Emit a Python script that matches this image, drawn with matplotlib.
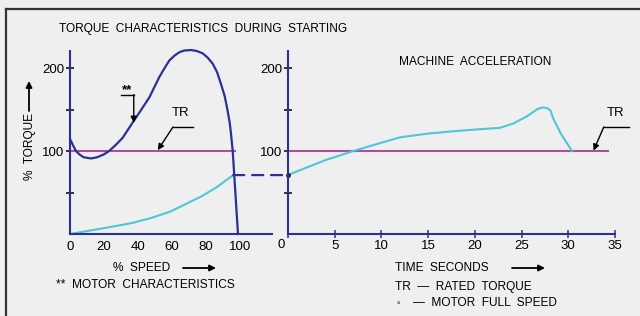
import matplotlib.pyplot as plt
from matplotlib.lines import Line2D
from matplotlib.patches import ConnectionPatch, FancyArrowPatch

plt.rcParams['font.family'] = ['Liberation Sans', 'DejaVu Sans']

# left panel: torque vs % speed
motor_speed = [0, 2, 3.5, 5.5, 8, 12.4, 16, 20, 23, 27, 31, 36.9, 41.5, 46.7, 49.5, 52.5, 55.5, 58.4,
               61.5, 64.3, 67, 71.2, 74.5, 78, 81, 84, 86.5, 88.8, 91, 92.7, 94, 94.7, 95.7, 98.8]
motor_torque = [114.5, 106, 100, 96, 92.5, 91, 92.5, 96, 100, 107.5, 116, 134.5, 148.5, 164.7, 176.5, 189, 199.5, 209,
                215, 219, 221, 221.7, 220.5, 217.7, 212.5, 205, 195, 180.7, 166, 148.6, 133, 120.5, 100, 0]
load_speed = [0, 8, 18, 28, 37, 48, 59, 68, 77, 86, 96]
load_torque = [0, 2.8, 6.4, 10, 13.5, 19.5, 27, 36, 45, 56, 71]
rated_torque = 100
rated_speed_end = 97
speed_ticks = [0, 20, 40, 60, 80, 100]

# right panel: machine acceleration vs time
accel_time = [0, 1.3, 4, 7, 10, 12, 15, 18.4, 20.9, 22.7, 24.1, 25.6, 26.7, 27.3, 27.8, 28.1, 28.4, 29.2, 30.4]
accel_torque = [71, 77, 89, 100, 110, 116.5, 121, 124.5, 126.5, 128, 133, 142, 150.5, 152.6, 151.5, 148.6, 139, 121, 100]
rated_time_end = 34.3
time_ticks = [0, 5, 10, 15, 20, 25, 30, 35]
torque_ticks = [50, 100, 150, 200]
torque_labels = ['', '100', '', '200']

navy = '#2b3194'
cyan = '#4ec6d6'
mauve = '#ad4f9c'
bg = '#efefef'

W, H = 640, 316
fig = plt.figure(figsize=(W / 100, H / 100), dpi=100, facecolor=bg)


def px(x0, y0, x1, y1):
    return [x0 / W, 1 - y1 / H, (x1 - x0) / W, (y1 - y0) / H]


ax1 = fig.add_axes(px(70, 51, 272, 234))
ax2 = fig.add_axes(px(288, 51, 615, 234))

for ax in (ax1, ax2):
    ax.set_facecolor('none')
    for s in ('top', 'right'):
        ax.spines[s].set_visible(False)
    for s in ('left', 'bottom'):
        ax.spines[s].set_color(navy)
        ax.spines[s].set_linewidth(1.5)
    ax.set_ylim(0, 220.5)
    ax.set_yticks(torque_ticks)
    ax.set_yticklabels(torque_labels)
    ax.tick_params(axis='y', direction='inout', length=6, width=1.1, color='black',
                   pad=1, labelsize=9.5)

ax1.set_xlim(0, 118.8)
ax1.set_xticks(speed_ticks)
ax1.tick_params(axis='x', length=0, pad=5, labelsize=9.5)

ax2.set_xlim(0, 35)
ax2.set_xticks(time_ticks)
ax2.set_xticklabels([''] + [str(t) for t in time_ticks[1:]])
ax2.tick_params(axis='x', direction='inout', length=6, width=1.1, color=navy,
                pad=1.5, labelsize=9.5)
ax2.text(-0.3, -6, '0', ha='right', va='top', fontsize=9.5)

# left curves
ax1.plot([0, rated_speed_end], [rated_torque, rated_torque], color=mauve, lw=1.5)
ax1.plot(load_speed, load_torque, color=cyan, lw=1.5)
ax1.plot(motor_speed, motor_torque, color=navy, lw=1.6, clip_on=False)

# right curves
ax2.plot([0, rated_time_end], [rated_torque, rated_torque], color=mauve, lw=1.5)
ax2.plot(accel_time, accel_torque, color=cyan, lw=1.5)
ax2.plot([0], [accel_torque[0]], 'o', color='#222222', ms=2.5, clip_on=False)

# dashed link between the panels
con = ConnectionPatch(xyA=(load_speed[-1], load_torque[-1]), coordsA=ax1.transData,
                      xyB=(accel_time[0], accel_torque[0]), coordsB=ax2.transData,
                      color=navy, lw=1.6, linestyle=(0, (5, 3.5)))
fig.add_artist(con)

# leaders
arrow = dict(arrowstyle='-|>', color='black', lw=1, shrinkA=0, shrinkB=0, mutation_scale=9)
ax1.plot([60.6, 72.2], [129, 129], color='black', lw=1)
ax1.annotate('', xy=(51.6, 101), xytext=(60.6, 129), arrowprops=arrow)
ax1.text(65, 139, 'TR', ha='center', va='bottom', fontsize=9.5)
ax1.plot([30, 37.5], [168, 168], color='black', lw=1)
ax1.annotate('', xy=(37.5, 134), xytext=(37.5, 168), arrowprops=arrow)
ax1.text(33.5, 166, '**', ha='center', va='bottom', fontsize=9.5, fontweight='bold')

ax2.plot([33.8, 36.5], [129, 129], color='black', lw=1, clip_on=False)
ax2.annotate('', xy=(32.7, 100.5), xytext=(33.8, 129), arrowprops=arrow, annotation_clip=False)
ax2.text(35.1, 139, 'TR', ha='center', va='bottom', fontsize=9.5)

# texts
fs = 8.6
fig.text(59 / W, 1 - 29 / H, 'TORQUE  CHARACTERISTICS  DURING  STARTING', ha='left', va='center', fontsize=fs)
fig.text(475 / W, 1 - 62 / H, 'MACHINE  ACCELERATION', ha='center', va='center', fontsize=fs)
fig.text(30 / W, 1 - 147 / H, '%  TORQUE', rotation=90, ha='center', va='center', fontsize=fs)
fig.text(113 / W, 1 - 268 / H, '%  SPEED', ha='left', va='center', fontsize=fs)
fig.text(56 / W, 1 - 285 / H, '**  MOTOR  CHARACTERISTICS', ha='left', va='center', fontsize=fs)
fig.text(395 / W, 1 - 268 / H, 'TIME  SECONDS', ha='left', va='center', fontsize=fs)
fig.text(395 / W, 1 - 287 / H, 'TR  \u2014  RATED  TORQUE', ha='left', va='center', fontsize=fs)
fig.text(396 / W, 1 - 303 / H, '\u25e6', ha='left', va='center', fontsize=7)
fig.text(413 / W, 1 - 303 / H, '\u2014  MOTOR  FULL  SPEED', ha='left', va='center', fontsize=fs)

arr = dict(arrowstyle='-|>', color='black', lw=1.3, shrinkA=0, shrinkB=0, mutation_scale=9)
fig.add_artist(FancyArrowPatch((183 / W, 1 - 268 / H), (216 / W, 1 - 268 / H), transform=fig.transFigure, **arr))
fig.add_artist(FancyArrowPatch((512 / W, 1 - 268 / H), (545 / W, 1 - 268 / H), transform=fig.transFigure, **arr))
fig.add_artist(FancyArrowPatch((29 / W, 1 - 111 / H), (29 / W, 1 - 81 / H), transform=fig.transFigure, **arr))

# frame
fig.add_artist(Line2D([6 / W, 6 / W], [0, 1 - 9 / H], color='#333333', lw=1.6, transform=fig.transFigure))
fig.add_artist(Line2D([6 / W, 1], [1 - 9 / H, 1 - 9 / H], color='#333333', lw=1.6, transform=fig.transFigure))

fig.savefig('out.png', dpi=100, facecolor=bg)
